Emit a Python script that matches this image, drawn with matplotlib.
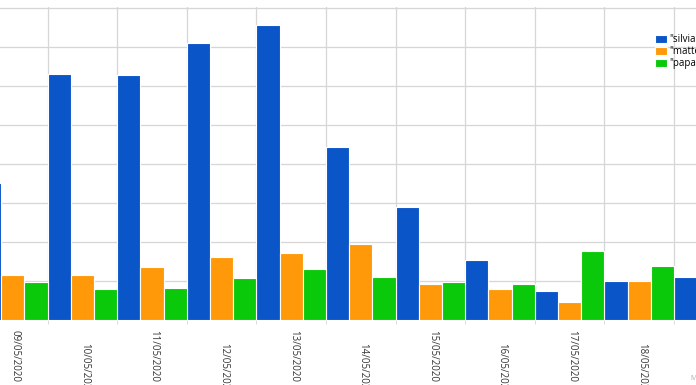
import numpy as np
import matplotlib
matplotlib.use("Agg")
import matplotlib.pyplot as plt

plt.rcParams['font.family'] = ['Open Sans', 'DejaVu Sans']

#   data (y in grid-step units, the axis labels are cropped away)
dates = ['09/05/2020', '10/05/2020', '11/05/2020', '12/05/2020', '13/05/2020',
         '14/05/2020', '15/05/2020', '16/05/2020', '17/05/2020', '18/05/2020',
         '19/05/2020']
silvia = [3.52, 6.32, 6.27, 7.09, 7.56, 4.44, 2.90, 1.55, 0.74, 1.01, 1.10]
matteo = [1.16, 1.15, 1.36, 1.61, 1.72, 1.95, 0.92, 0.79, 0.45, 1.01, np.nan]
papa = [0.98, 0.80, 0.82, 1.08, 1.31, 1.10, 0.97, 0.93, 1.76, 1.39, np.nan]
series = ['"silvia"', '"matteo"', '"papa"']
colours = ['#0a55c8', '#ff990a', '#0ac80a']

W, H = 696, 385
fig = plt.figure(figsize=(W / 100, H / 100), dpi=100)
ax = fig.add_axes([0, (H - 320) / H, 1, (320 - 7.3) / H])

x = np.arange(len(dates))
bw = 1 / 3
for k, (vals, c, lab) in enumerate(zip([silvia, matteo, papa], colours, series)):
    ax.bar(x + (k - 1) * bw, vals, width=bw, color=c, edgecolor='white',
           linewidth=0.8, label=lab, zorder=3)

#   pixel scale: group i centred at 12.8 + 69.6*i
ax.set_xlim(-12.8 / 69.6, (W - 12.8) / 69.6)
ax.set_ylim(0, (320 - 7.3) / 39.0)

ax.set_yticks(np.arange(0, 9))
ax.set_xticks(x[:-1] + 0.5, minor=True)
ax.set_xticks([])
ax.grid(True, which='minor', axis='x', color='#d6d6d6', lw=0.9, zorder=0)
ax.grid(True, which='major', axis='y', color='#d6d6d6', lw=0.9, zorder=0)
ax.tick_params(axis='y', left=False, labelleft=False)
ax.tick_params(axis='x', which='minor', length=3, color='#d6d6d6')
for s in ax.spines.values():
    s.set_visible(False)

#   staggered, rotated date labels
for i, d in enumerate(dates):
    off = -7.2 if i % 2 == 0 else -16.8
    ax.annotate(d, xy=(i, 0), xycoords=('data', 'axes fraction'),
                xytext=(1.5, off), textcoords='offset points',
                rotation=-90, ha='center', va='top', fontsize=7,
                color='#333333', annotation_clip=False)

ax.legend(loc='upper left', bbox_to_anchor=(655 / W, 1 - (34 - 7.3) / 312.7),
          frameon=False, fontsize=7, handlelength=1.2, handleheight=0.9,
          handletextpad=0.25, labelspacing=0.12, borderpad=0, borderaxespad=0)

fig.text(690 / W, 1 - 378 / H, 'M', fontsize=5, color='#aaaaaa', va='center')

fig.savefig('out.png', dpi=100)
